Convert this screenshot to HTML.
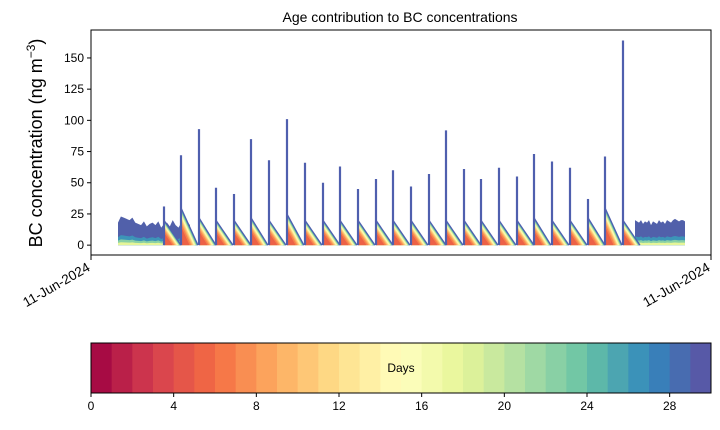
<!DOCTYPE html>
<html><head><meta charset="utf-8">
<style>
body{margin:0;background:#fff;font-family:"Liberation Sans",sans-serif;}
svg text{font-family:"Liberation Sans",sans-serif;}
</style></head>
<body>
<svg id="c" width="720" height="425" viewBox="0 0 720 425" xmlns="http://www.w3.org/2000/svg"></svg>
<script>
const spikeTimes=[3.65,4.5,5.4,6.25,7.15,8.0,8.9,9.8,10.7,11.6,12.45,13.35,14.25,15.1,16.0,16.9,17.75,18.65,19.5,20.4,21.3,22.15,23.05,23.95,24.85,25.7,26.6];
const spikePeaks=[31,72,93,46,41,85,68,101,66,50,63,45,53,60,47,57,92,61,53,62,55,73,67,62,37,71,164];
const sawStart=[20,30,22,20,20,22,20,25,20,20,20,20,20,20,20,20,20,20,20,20,20,22,20,20,22,30,20];
const noiseA=[18,23,22,21,20,22,18,17,16,19,15,17,18,16,19,14,17,18,15,20,16,14,18,17,19,16];
const noiseB=[20,19,18,20,17,19,18,20,16,19,18,17,20,18,19,17,20,19,18,20,21,20,19,20,20,19];
const yTicks=[0,25,50,75,100,125,150];
const cbTicks=[0,4,8,12,16,20,24,28];
const nDays=30;

const NS="http://www.w3.org/2000/svg";
const svg=document.getElementById('c');
function mk(tag,attrs,parent){const e=document.createElementNS(NS,tag);for(const k in attrs)e.setAttribute(k,attrs[k]);(parent||svg).appendChild(e);return e;}
const L=91,R=711,T=30,B=255;
const xMin=0,xMax=31,yMin=-7.9,yMax=172.4;
const X=t=>L+(t-xMin)/(xMax-xMin)*(R-L);
const Y=v=>B-(v-yMin)/(yMax-yMin)*(B-T);
const stops=["#9e0142","#d53e4f","#f46d43","#fdae61","#fee08b","#ffffbf","#e6f598","#abdda4","#66c2a5","#3288bd","#5e4fa2"];
function hex(h){return [1,3,5].map(i=>parseInt(h.substr(i,2),16));}
function spectral(f){const p=f*10,i=Math.min(9,Math.floor(p)),r=p-i;const a=hex(stops[i]),b=hex(stops[i+1]);return 'rgb('+a.map((v,k)=>Math.round(v+(b[k]-v)*r)).join(',')+')';}

mk('text',{x:400,y:22,'text-anchor':'middle','font-size':14,}).textContent='Age contribution to BC concentrations';

const g=mk('g',{});
const clip=mk('clipPath',{id:'cp'});mk('rect',{x:L,y:T,width:R-L,height:B-T},clip);
g.setAttribute('clip-path','url(#cp)');

function noise(arr,t0,t1,name){
  const dt=(t1-t0)/(arr.length-1);
  const layers=[[1,0.97],[0.35,0.88],[0.2,0.75],[0.1,0.6]];
  layers.forEach(([f,c])=>{
    let d='M'+X(t0)+','+Y(0);
    arr.forEach((v,i)=>{d+=' L'+X(t0+i*dt)+','+Y(v*f);});
    d+=' L'+X(t1)+','+Y(0)+'Z';
    const p=mk('path',{d:d,fill:spectral(c)},g);
    
    
  });
}
noise(noiseA,1.35,4.95,'noise-region-start');
noise(noiseB,27.2,29.7,'noise-region-end');

const w=0.85;
spikeTimes.forEach((t,i)=>{
  const h=sawStart[i];
  const N=16;
  for(let k=N-1;k>=0;k--){
    const c=0.12+0.88*(k+1)/N;
    const f=Math.pow((k+1)/N,0.25);
    const p=mk('path',{d:'M'+X(t)+','+Y(0)+' L'+X(t)+','+Y(h*f)+' L'+X(t+w*f)+','+Y(0)+'Z',fill:spectral(c)},g);
    
    
  }
  const s=mk('line',{x1:X(t),x2:X(t),y1:Y(0),y2:Y(spikePeaks[i]),stroke:'#4f5fae','stroke-width':2.2},g);
  
  
  const e=mk('line',{x1:X(t),x2:X(t+w),y1:Y(h),y2:Y(0),stroke:'#4f5fae','stroke-width':1.2},g);
  
  
});

mk('rect',{x:L,y:T,width:R-L,height:B-T,fill:'none',stroke:'#000','stroke-width':1,});
yTicks.forEach(v=>{
  const tk=mk('line',{x1:L-4,x2:L,y1:Y(v),y2:Y(v),stroke:'#000'});
  
  const tx=mk('text',{x:L-7,y:Y(v)+4,'text-anchor':'end','font-size':12});
  
  tx.textContent=v;
});
[L,R].forEach(px=>{
  mk('line',{x1:px,x2:px,y1:B,y2:B+5,stroke:'#000',});
  mk('text',{x:px,y:B+15,'text-anchor':'end','font-size':13.5,transform:'rotate(-30 '+px+' '+(B+15)+')',}).textContent='11-Jun-2024';
});
mk('text',{x:42,y:143,'text-anchor':'middle','font-size':18,transform:'rotate(-90 42 143)',}).innerHTML='BC concentration (ng m<tspan dy="-7" font-size="12">−3</tspan><tspan dy="7">)</tspan>';

const cL=91,cR=711,cT=343,cB=393;
const cw=(cR-cL)/nDays;
for(let i=0;i<nDays;i++){
  const r=mk('rect',{x:cL+i*cw,y:cT,width:cw+0.5,height:cB-cT,fill:spectral((i+0.5)/nDays)});
  
  
}
mk('rect',{x:cL,y:cT,width:cR-cL,height:cB-cT,fill:'none',stroke:'#000',});
mk('text',{x:401,y:372,'text-anchor':'middle','font-size':12,}).textContent='Days';
cbTicks.forEach(v=>{
  const px=cL+v/nDays*(cR-cL);
  const tk=mk('line',{x1:px,x2:px,y1:cB,y2:cB+4,stroke:'#000'});
  
  const tx=mk('text',{x:px,y:cB+17,'text-anchor':'middle','font-size':12});
  
  tx.textContent=v;
});
</script>
</body></html>
